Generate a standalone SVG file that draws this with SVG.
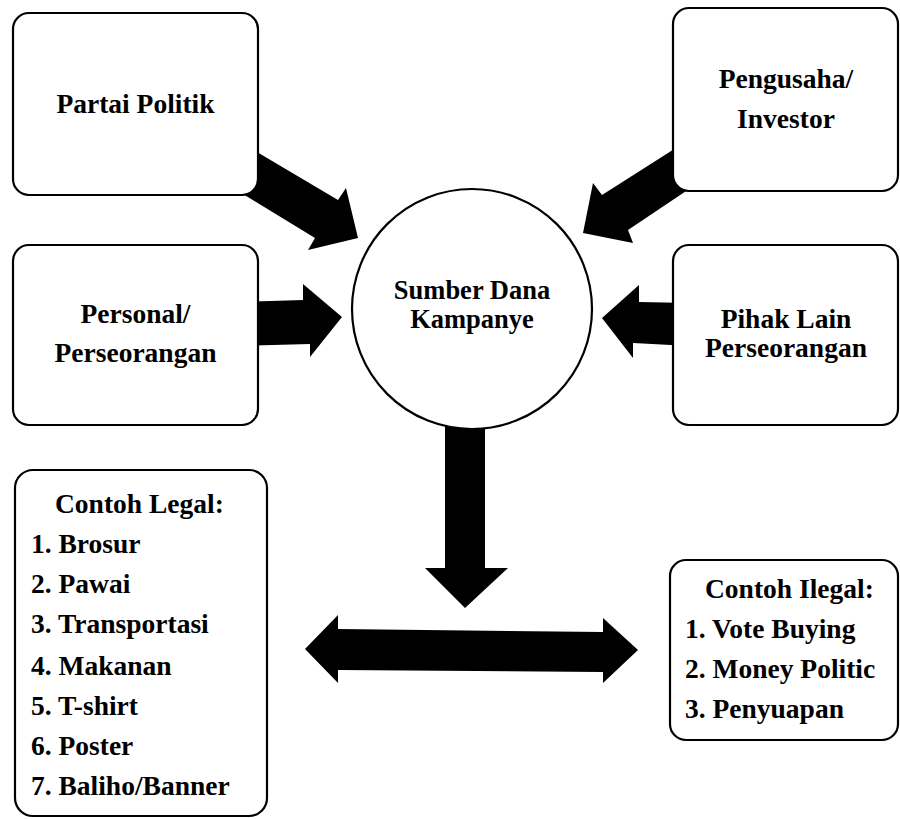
<svg xmlns="http://www.w3.org/2000/svg" width="900" height="819" viewBox="0 0 900 819">
<style>
.box{fill:#fff;stroke:#000;stroke-width:2.2}
.t{font-family:"Liberation Serif","Times New Roman","DejaVu Serif",serif;font-weight:bold;font-size:27.5px;fill:#000}
.c{text-anchor:middle}
.arr{fill:#000;stroke:none}
</style>
<rect width="900" height="819" fill="#fff"/>
<g id="connectors">
<polygon class="arr" points="245,145 338,200 346,188 358,238 308,250 315,238 225,183"/>
<polygon class="arr" points="240,302 303,300 303,284 342,317 310,357 310,344 240,346"/>
<polygon class="arr" points="690,139 602,195 593,183 583,233 633,243 628,230 710,175"/>
<polygon class="arr" points="690,303 639,302 639,285 602,318 633,358 633,343 690,346"/>
<polygon class="arr" points="445,400 485,400 485,568 508,568 465,608 425,568 445,568"/>
<polygon class="arr" points="305,649 338,615 338,629 603,632 603,618 638,650 603,683 603,672 338,670 338,683"/>
</g>
<g id="partai">
<rect class="box" x="13" y="13" width="245" height="182" rx="16"/>
<text class="t c" x="135.5" y="113" font-family="Liberation Serif, serif">Partai Politik</text>
</g>
<g id="personal">
<rect class="box" x="13" y="245" width="245" height="180" rx="16"/>
<text class="t c" x="135.5" y="323">Personal/</text>
<text class="t c" x="135.5" y="362">Perseorangan</text>
</g>
<g id="pengusaha">
<rect class="box" x="673" y="8" width="225" height="183" rx="16"/>
<text class="t c" x="786" y="88">Pengusaha/</text>
<text class="t c" x="786" y="128">Investor</text>
</g>
<g id="pihak">
<rect class="box" x="673" y="245" width="225" height="180" rx="16"/>
<text class="t c" x="786" y="328">Pihak Lain</text>
<text class="t c" x="786" y="357">Perseorangan</text>
</g>
<g id="sumber">
<circle class="box" cx="472" cy="309" r="120"/>
<text class="t c" x="472" y="299" style="font-size:26.5px">Sumber Dana</text>
<text class="t c" x="472" y="328" style="font-size:26.5px">Kampanye</text>
</g>
<g id="legal">
<rect class="box" x="15" y="470" width="252" height="346" rx="18"/>
<text class="t" x="55" y="513">Contoh Legal:</text>
<text class="t" x="31" y="553">1. Brosur</text>
<text class="t" x="31" y="593">2. Pawai</text>
<text class="t" x="31" y="633">3. Transportasi</text>
<text class="t" x="31" y="675">4. Makanan</text>
<text class="t" x="31" y="715">5. T-shirt</text>
<text class="t" x="31" y="755">6. Poster</text>
<text class="t" x="31" y="795">7. Baliho/Banner</text>
</g>
<g id="ilegal">
<rect class="box" x="670" y="560" width="228" height="180" rx="16"/>
<text class="t" x="705" y="598">Contoh Ilegal:</text>
<text class="t" x="685" y="638">1. Vote Buying</text>
<text class="t" x="685" y="678">2. Money Politic</text>
<text class="t" x="685" y="718">3. Penyuapan</text>
</g>
</svg>
